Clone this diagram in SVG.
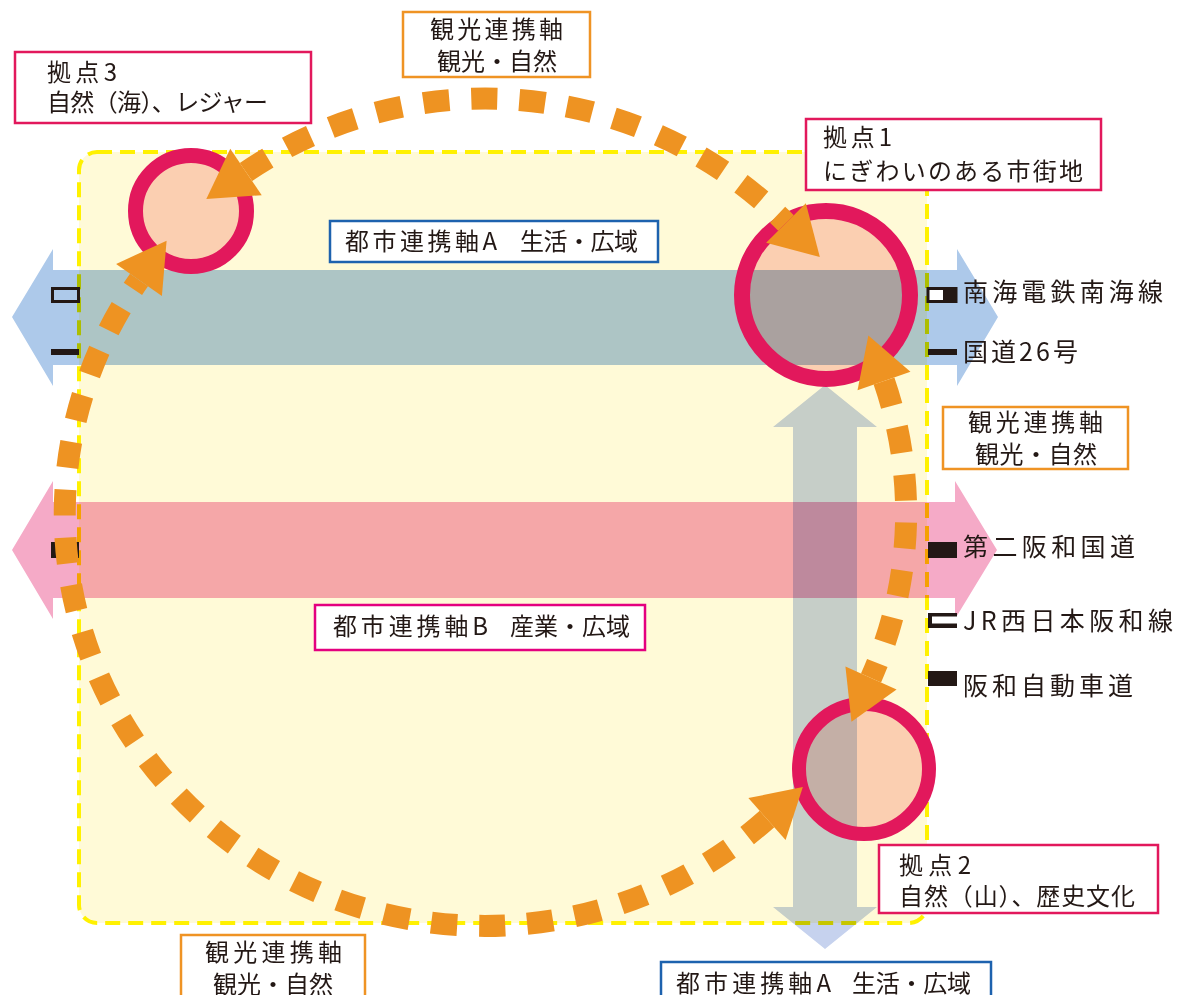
<svg xmlns="http://www.w3.org/2000/svg" width="1177" height="995" viewBox="0 0 1177 995">
<style>
text{font-family:"Noto Sans CJK JP","Noto Sans",sans-serif;fill:#231815;font-size:24px}
.leg{font-size:25px}
.mul{mix-blend-mode:multiply}
.lbl{fill:#fff;stroke-width:2.5}
.kyo{stroke:#e2185c}
.kan{stroke:#ef9324}
.ta{stroke:#1d62ae}
.tb{stroke:#e4007f}
.ring{fill:none;stroke:#e2185c}
.peach{fill:#fbcfb1}
.arc{fill:none;stroke:#ee9322;stroke-width:22;stroke-dasharray:26 22;marker-start:url(#ah);marker-end:url(#ah)}
.sym{fill:#231815}
</style>
<defs>
<marker id="ah" markerUnits="userSpaceOnUse" viewBox="0 0 48 56" markerWidth="48" markerHeight="56" refX="0" refY="28" orient="auto-start-reverse" overflow="visible">
<path d="M0,0 L48,28 L0,56 Z" fill="#ee9322"/>
</marker>
<clipPath id="c1"><circle cx="826" cy="295" r="84"/></clipPath>
<clipPath id="c2"><circle cx="864" cy="769" r="65"/></clipPath>
</defs>
<rect width="1177" height="995" fill="#fff"/>
<g id="area">
<rect x="79" y="152" width="848" height="771" rx="18" fill="#fffad7" stroke="#fff100" stroke-width="4" stroke-dasharray="15 8"/>
</g>
<g id="axes">
<polygon class="mul" fill="#adc9ea" points="12,317 53,249 53,270 957,270 957,249 998,317 957,386 957,365 53,365 53,386"/>
<polygon class="mul" fill="#f5aac7" points="12,550 53,481 53,502 955,502 955,481 997,550 955,619 955,598 53,598 53,619"/>
<polygon class="mul" fill="#c6d2ee" points="825,385 877,427 857,427 857,907 877,907 825,949 773,907 793,907 793,427 773,427"/>
</g>
<g id="legend">
<rect x="928" y="288.5" width="28" height="13" fill="#fff" stroke="#231815" stroke-width="3"/>
<rect class="sym" x="943" y="287" width="14" height="16"/>
<rect x="52.5" y="288.5" width="26" height="13" fill="none" stroke="#231815" stroke-width="3"/>
<rect class="sym" x="928" y="349" width="29" height="6"/>
<rect class="sym" x="51" y="349" width="28" height="6"/>
<rect class="sym" x="928" y="542" width="29" height="16"/>
<rect class="sym" x="51" y="542" width="28" height="16"/>
<rect class="sym" x="928" y="613" width="29" height="15"/>
<rect x="932" y="616.5" width="25" height="7" fill="#fff"/>
<rect class="sym" x="928" y="671" width="29" height="15"/>
<text class="leg" x="963" y="301" textLength="200">南海電鉄南海線</text>
<text class="leg" x="963" y="361" textLength="115">国道26号</text>
<text class="leg" x="963" y="556" textLength="172">第二阪和国道</text>
<text class="leg" x="963" y="630" textLength="210">JR西日本阪和線</text>
<text class="leg" x="963" y="695" textLength="170">阪和自動車道</text>
</g>
<g id="node-kyoten1">
<circle class="peach" cx="826" cy="295" r="84"/>
<rect x="730" y="270" width="200" height="95" fill="#aaa19f" clip-path="url(#c1)"/>
<circle class="ring" cx="826" cy="295" r="84" stroke-width="16"/>
</g>
<g id="node-kyoten2">
<circle class="peach" cx="864" cy="769" r="65"/>
<rect x="793" y="690" width="64" height="160" fill="#c4afa6" clip-path="url(#c2)"/>
<circle class="ring" cx="864" cy="769" r="65" stroke-width="14"/>
</g>
<g id="node-kyoten3">
<circle class="peach" cx="191" cy="211" r="55.5"/>
<circle class="ring" cx="191" cy="211" r="55.5" stroke-width="15"/>
</g>
<g id="connectors">
<path class="arc" d="M246,172 A420,412 0 0 1 786,223"/>
<path class="arc" d="M884,381 A420,412 0 0 1 871,678"/>
<path class="arc" d="M767,819 A420,412 0 0 1 139,280"/>
</g>
<g id="label-kyoten3">
<rect class="lbl kyo" x="15" y="52" width="296" height="71"/>
<text x="47" y="81" textLength="70">拠点3</text>
<text x="47" y="111" font-size="23" textLength="221">自然（海）、レジャー</text>
</g>
<g id="label-kanko-top">
<rect class="lbl kan" x="403" y="12" width="187" height="65"/>
<text x="430" y="38" textLength="133">観光連携軸</text>
<text x="437" y="70" textLength="120">観光・自然</text>
</g>
<g id="label-kyoten1">
<rect class="lbl kyo" x="806" y="119" width="295" height="71"/>
<text x="823" y="146" textLength="69">拠点1</text>
<text x="823" y="180" textLength="260">にぎわいのある市街地</text>
</g>
<g id="label-toshiA-top">
<rect class="lbl ta" x="330" y="221" width="328" height="41"/>
<text x="345" y="250" textLength="152">都市連携軸A</text>
<text x="520" y="250" textLength="118">生活・広域</text>
</g>
<g id="label-kanko-right">
<rect class="lbl kan" x="943" y="407" width="185" height="62"/>
<text x="968" y="431" textLength="135">観光連携軸</text>
<text x="975" y="463" textLength="122">観光・自然</text>
</g>
<g id="label-toshiB">
<rect class="lbl tb" x="315" y="605" width="330" height="45"/>
<text x="333" y="635" textLength="155">都市連携軸B</text>
<text x="510" y="635" textLength="120">産業・広域</text>
</g>
<g id="label-kanko-bottom">
<rect class="lbl kan" x="181" y="935" width="184" height="72"/>
<text x="205" y="961" textLength="137">観光連携軸</text>
<text x="213" y="993" textLength="120">観光・自然</text>
</g>
<g id="label-kyoten2">
<rect class="lbl kyo" x="879" y="845" width="279" height="68"/>
<text x="899" y="874" textLength="72">拠点2</text>
<text x="899" y="905" textLength="236">自然（山）、歴史文化</text>
</g>
<g id="label-toshiA-bottom">
<rect class="lbl ta" x="661" y="962" width="330" height="50"/>
<text x="676" y="992" textLength="155">都市連携軸A</text>
<text x="852" y="992" textLength="119">生活・広域</text>
</g>
</svg>
